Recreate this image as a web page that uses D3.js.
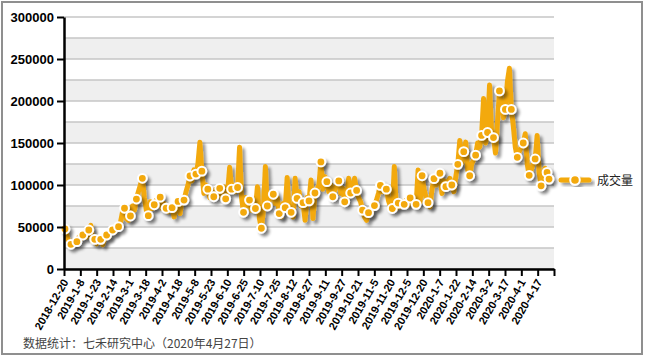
<!DOCTYPE html>
<html><head><meta charset="utf-8">
<script src="https://cdn.jsdelivr.net/npm/d3@7/dist/d3.min.js"></script>
<style>body{margin:0;background:#fff;} svg{display:block;}</style>
</head><body>
<svg id="c" width="648" height="359"></svg>
<script>
// ---- data ----
const tickLabels = ["2018-12-20","2019-1-8","2019-1-23","2019-2-14","2019-3-1","2019-3-18","2019-4-2","2019-4-18","2019-5-8","2019-5-23","2019-6-10","2019-6-25","2019-7-10","2019-7-25","2019-8-12","2019-8-27","2019-9-11","2019-9-27","2019-10-21","2019-11-5","2019-11-20","2019-12-5","2019-12-20","2020-1-7","2020-1-22","2020-2-14","2020-3-2","2020-3-17","2020-4-1","2020-4-17"];
const seriesName = "成交量";
const yTickValues = [0,50000,100000,150000,200000,250000,300000];
const values = [
47600,40000,30000,29400,33000,30000,32500,38000,36000,40500,
44000,38000,46400,52000,33000,35300,30000,33000,35300,29000,
36000,40500,38000,44000,46400,44000,50000,50400,56000,68000,
72300,60000,58000,63100,75000,70000,83300,92000,100000,108000,
85000,70000,63500,80000,72000,76500,82000,78000,85500,72000,
78000,72300,68000,75000,73000,62000,78000,80500,66000,84000,
82000,92000,100000,110700,105000,118000,113000,125000,151000,116500,
90000,100000,95000,85000,92000,86000,95000,88000,96000,85000,
98000,83500,92000,121000,95000,100000,92000,97000,145000,85000,
67500,85000,75000,82000,70000,78000,72000,98000,60000,48500,
70000,122000,75000,82000,90000,89000,78000,85000,66000,62000,
78000,73000,109000,68000,67500,62000,108000,84000,92000,75000,
79000,58000,85000,81000,106000,60000,90500,95000,100000,127500,
95000,110000,104000,92000,100000,86000,95000,100000,104800,90000,
96000,80000,85000,108000,90500,95000,108000,93500,85000,80000,
70000,62000,58000,67000,65000,72000,75500,82000,90000,99500,
92000,98000,95000,82000,75000,72000,122000,72000,78500,74000,
80000,77000,82000,76000,84500,80000,78000,77000,118000,80000,
111000,95000,85000,79000,74000,95000,107500,100000,110000,114000,
90000,105000,98000,104000,108000,100000,92000,110000,124600,153000,
126000,139700,151000,118000,111000,125000,130000,135500,150000,145000,
159000,203000,150000,162500,219000,165000,156500,138000,175000,212000,
200000,180000,190000,223000,239000,190000,170000,145000,133000,140000,
145000,150000,161000,125000,111500,118000,125000,131000,159000,115000,
99000,108000,120000,115000,107000
];

// ---- layout ----
const plot = {left:64, right:554, top:17, bottom:269};
const orange = "#f3a90d";
const svg = d3.select("#c");

const defs = svg.append("defs");
const f = defs.append("filter").attr("id","sh").attr("x","-20%").attr("y","-20%").attr("width","140%").attr("height","140%");
f.append("feGaussianBlur").attr("in","SourceAlpha").attr("stdDeviation",1.6).attr("result","b");
f.append("feOffset").attr("in","b").attr("dx",3).attr("dy",3).attr("result","o");
f.append("feComponentTransfer").attr("in","o").attr("result","t").append("feFuncA").attr("type","linear").attr("slope",0.4);
const fm = f.append("feMerge"); fm.append("feMergeNode").attr("in","t"); fm.append("feMergeNode").attr("in","SourceGraphic");

// frame
svg.append("rect").attr("x",2).attr("y",2).attr("width",640).attr("height",352)
  .attr("fill","#fff").attr("stroke","#8f8f8f").attr("stroke-width",2);

const y = d3.scaleLinear().domain([0,300000]).range([plot.bottom, plot.top]);
const nSlots = 247;
const x = d3.scaleLinear().domain([0,nSlots]).range([plot.left, plot.right]);
const xt = d3.scaleLinear().domain([0,30]).range([plot.left, plot.right]);

// bands + grid
const bandStarts = d3.range(0, 300000, 50000);
svg.append("g").selectAll("rect").data(bandStarts).join("rect")
  .attr("x",plot.left).attr("width",plot.right-plot.left)
  .attr("y",d=>y(d+25000)).attr("height",d=>y(d)-y(d+25000))
  .attr("fill","#efefef");
svg.append("g").selectAll("line").data(d3.range(0,300001,25000)).join("line")
  .attr("x1",plot.left).attr("x2",plot.right)
  .attr("y1",d=>y(d)).attr("y2",d=>y(d))
  .attr("stroke","#c6c6c6").attr("stroke-width",1.5);

// series
const line = d3.line().x((d,i)=>x(i+0.5)).y(d=>y(d));
svg.append("path").datum(values).attr("d",line)
  .attr("fill","none").attr("stroke",orange).attr("stroke-width",5)
  .attr("stroke-linejoin","round").attr("stroke-linecap","round")
  .attr("filter","url(#sh)");
const markerIdx = values.map((v,i)=>i).filter(i=> i%3===0 || i===values.length-1);
svg.append("g").attr("filter","url(#sh)").selectAll("circle").data(markerIdx).join("circle")
  .attr("cx",i=>x(i+0.5)).attr("cy",i=>y(values[i])).attr("r",4.4)
  .attr("fill",orange).attr("stroke","#fff").attr("stroke-width",2);

// axes
const yAxis = d3.axisLeft(y).tickValues(yTickValues).tickSize(7).tickSizeOuter(0).tickPadding(3).tickFormat(d3.format("d"));
const gy = svg.append("g").attr("transform",`translate(${plot.left},0)`).call(yAxis);
gy.select(".domain").attr("stroke","#000").attr("stroke-width",2.5);
gy.selectAll(".tick line").attr("stroke","#000").attr("stroke-width",2);
gy.selectAll(".tick text").attr("font-family","'Liberation Sans',Arial,sans-serif").attr("font-weight","bold").attr("font-size","13px").attr("fill","#000");

const xAxis = d3.axisBottom(xt).tickValues(d3.range(31)).tickSize(7).tickSizeOuter(0).tickFormat(j=>tickLabels[j]||"");
const gx = svg.append("g").attr("transform",`translate(0,${plot.bottom})`).call(xAxis);
gx.select(".domain").attr("stroke","#000").attr("stroke-width",2.5);
gx.selectAll(".tick line").attr("stroke","#000").attr("stroke-width",2);
gx.selectAll(".tick text").attr("font-family","'Liberation Sans',Arial,sans-serif").attr("font-weight","bold").attr("font-size","11px").attr("fill","#000")
  .attr("text-anchor","end").attr("x",0).attr("y",0).attr("dy","0.35em")
  .attr("transform","translate(1,11) rotate(-60)");

// legend
const lg = svg.append("g").attr("filter","url(#sh)");
lg.append("line").attr("x1",561).attr("x2",589).attr("y1",180).attr("y2",180).attr("stroke",orange).attr("stroke-width",5).attr("stroke-linecap","round");
lg.append("circle").attr("cx",575).attr("cy",180).attr("r",4.8).attr("fill",orange).attr("stroke","#fff").attr("stroke-width",2);
svg.append("text").attr("x",597).attr("y",185).text(seriesName)
  .attr("font-family","'Noto Sans CJK SC',sans-serif").attr("font-size","12px").attr("fill","#222");

// footer
svg.append("text").attr("x",23).attr("y",348).text("数据统计：七禾研究中心（2020年4月27日）")
  .attr("font-family","'Noto Sans CJK SC',sans-serif").attr("font-size","12px").attr("fill","#444");
</script>
</body></html>
